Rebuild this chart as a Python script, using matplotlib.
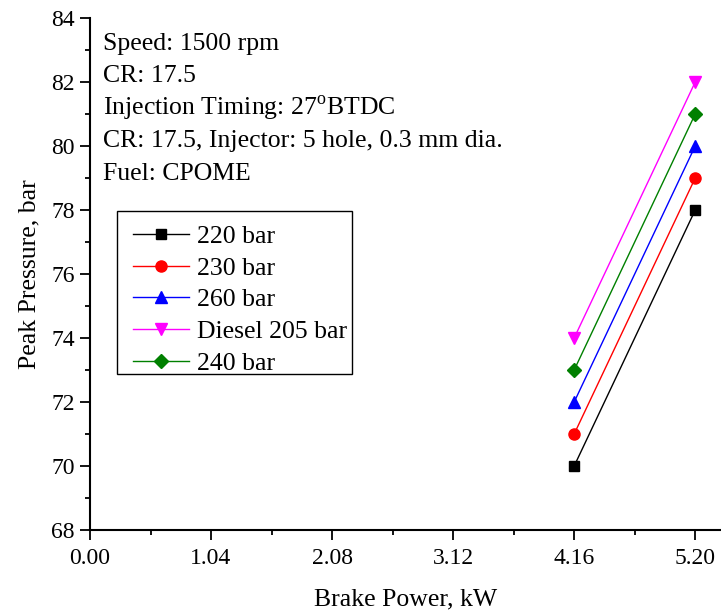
import matplotlib
matplotlib.use("Agg")
import matplotlib.pyplot as plt
from matplotlib.patches import Rectangle
from matplotlib.ticker import MultipleLocator

plt.rcParams["font.family"] = ["Liberation Serif", "DejaVu Serif"]
plt.rcParams["mathtext.fontset"] = "custom"
plt.rcParams["mathtext.rm"] = "Liberation Serif"

power = [4.16, 5.20]
p220 = [70, 78]
p230 = [71, 79]
p260 = [72, 80]
diesel205 = [74, 82]
p240 = [73, 81]

labels = ["220 bar", "230 bar", "260 bar", "Diesel 205 bar", "240 bar"]
series = [p220, p230, p260, diesel205, p240]
colors = ["black", "red", "blue", "magenta", "green"]
markers = ["s", "o", "^", "v", "D"]
sizes = [7, 8, 8, 8, 7]

notes = ["Speed: 1500 rpm", "CR: 17.5", r"Injection Timing: 27$^\mathrm{o}$BTDC",
         "CR: 17.5, Injector: 5 hole, 0.3 mm dia.", "Fuel: CPOME"]

fig = plt.figure(figsize=(7.21, 6.14), dpi=100)
ax = fig.add_axes([0.1248, 0.1368, 0.875, 0.834])

for vals, lab, c, m, s in zip(series, labels, colors, markers, sizes):
    ax.plot(power, vals, color=c, marker=m, markersize=s, linewidth=1, label=lab)

ax.set_xlim(0, 5.42)
ax.set_ylim(68, 84)
ax.set_xticks([0, 1.04, 2.08, 3.12, 4.16, 5.20])
ax.set_xticklabels(["0.00", "1.04", "2.08", "3.12", "4.16", "5.20"])
ax.xaxis.set_minor_locator(MultipleLocator(0.52))
ax.yaxis.set_major_locator(MultipleLocator(2))
ax.yaxis.set_minor_locator(MultipleLocator(1))
ax.tick_params(which="major", length=7, width=1.3, labelsize=17)
ax.tick_params(which="minor", length=3.6, width=1.3)
ax.tick_params(axis="x", which="major", pad=6)
ax.tick_params(axis="y", which="major", pad=4)
ax.spines["top"].set_visible(False)
ax.spines["right"].set_visible(False)
ax.spines["left"].set_linewidth(1.5)
ax.spines["bottom"].set_linewidth(1.5)

ax.set_xlabel("Brake Power, kW", fontsize=18.5, labelpad=14)
ax.set_ylabel("Peak Pressure, bar", fontsize=18.5, labelpad=8)

for i, t in enumerate(notes):
    ax.text(0.02, 0.95 - i * 0.0635, t, transform=ax.transAxes, fontsize=18.5,
            va="center", ha="left")

# legend entries without frame, box drawn separately (Origin-style padding)
ax.legend(loc="upper left", bbox_to_anchor=(0.0557, 0.611), borderaxespad=0,
          fontsize=18.5, frameon=False, handlelength=2.2, handletextpad=0.3,
          labelspacing=0.34, borderpad=0.3)
ax.add_patch(Rectangle((0.0428, 0.3047), 0.372, 0.3183, transform=ax.transAxes,
                       fill=False, edgecolor="black", linewidth=1.0, zorder=5))

fig.savefig("out.png", dpi=100)
